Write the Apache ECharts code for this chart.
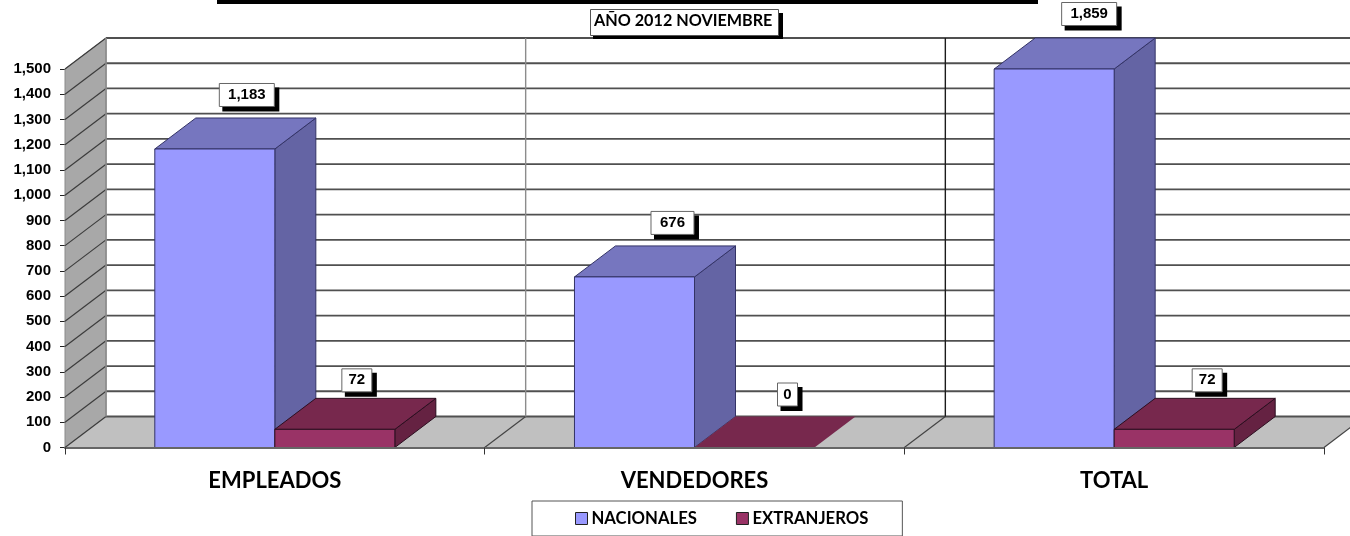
<!DOCTYPE html>
<html>
<head>
<meta charset="utf-8">
<title>AÑO 2012 NOVIEMBRE</title>
<script src="https://cdn.jsdelivr.net/npm/echarts@6/dist/echarts.min.js"></script>
<style>
html,body{margin:0;padding:0;background:#fff;}
#main{width:1350px;height:536px;}
</style>
</head>
<body>
<div id="main"></div>
<script>
var categories = ['EMPLEADOS', 'VENDEDORES', 'TOTAL'];
var nacionales = [1183, 676, 1859];
var extranjeros = [72, 0, 72];
var yMax = 1500;
var yStep = 100;

// falso 3D: desplazamiento del fondo respecto al frente
var DEPTH_X = 41;
var DEPTH_Y = -31;
var BAR_RATIO = 0.286;

// desplazamiento de las etiquetas respecto a la barra
var nacLabelShift = [[32, -54], [38, -54], [35, -55]];
var extLabelShift = [[22, -49], [33, -53], [33, -49]];
var boxWidths = {1: 20, 2: 30, 3: 43, 5: 55};
var backLineColors = ['#8c8c8c', '#1c1c1c', '#8c8c8c'];

function poly(points, fill, stroke, lineWidth) {
    return {
        type: 'polygon',
        shape: {points: points},
        style: {fill: fill, stroke: stroke || null, lineWidth: lineWidth || 0}
    };
}

function seg(x1, y1, x2, y2, color, width) {
    return {
        type: 'line',
        shape: {x1: x1, y1: y1, x2: x2, y2: y2},
        style: {stroke: color, lineWidth: width, fill: null}
    };
}

/* paredes y suelo del grafico */
function renderWalls(params, api) {
    var children = [];
    var band = api.size([1, 0])[0];
    var origin = api.coord([0, 0]);
    var left = origin[0] - band / 2;
    var bottom = origin[1];
    var top = api.coord([0, yMax])[1];
    var right = left + band * categories.length;

    children.push(poly([[left, top], [left + DEPTH_X, top + DEPTH_Y], [left + DEPTH_X, bottom + DEPTH_Y], [left, bottom]], '#a8a8a8', '#8a8a8a', 1));
    children.push(poly([[left, bottom], [left + DEPTH_X, bottom + DEPTH_Y], [right + DEPTH_X, bottom + DEPTH_Y], [right, bottom]], '#c0c0c0'));

    for (var v = 0; v <= yMax; v += yStep) {
        var y = api.coord([0, v])[1];
        if (v > 0) {
            children.push(seg(left, y, left + DEPTH_X, y + DEPTH_Y, '#3c3c3c', 1.2));
        }
        children.push(seg(left + DEPTH_X, y + DEPTH_Y, right + DEPTH_X, y + DEPTH_Y, '#505050', 1.8));
    }
    children.push(seg(left, bottom, left + DEPTH_X, bottom + DEPTH_Y, '#3c3c3c', 1.2));

    for (var i = 1; i <= categories.length; i++) {
        var x = left + band * i;
        children.push(seg(x, bottom, x + DEPTH_X, bottom + DEPTH_Y, '#444', 1.2));
        if (i < categories.length) {
            children.push(seg(x + DEPTH_X, bottom + DEPTH_Y, x + DEPTH_X, top + DEPTH_Y, backLineColors[i - 1], 1.4));
        }
    }
    children.push(seg(left + DEPTH_X, bottom + DEPTH_Y, left + DEPTH_X, top + DEPTH_Y, '#8c8c8c', 1.6));
    return {type: 'group', children: children};
}

/* caja de una barra: side = -1 a la izquierda del centro, 0 a la derecha */
function boxRenderer(side, colors, shifts) {
    return function (params, api) {
        var idx = api.value(0);
        var raw = api.value(1);
        var band = api.size([1, 0])[0];
        var w = band * BAR_RATIO;
        var base = api.coord([idx, 0]);
        var x0 = base[0] + side * w;
        var x1 = x0 + w;
        // la barra se corta en el maximo del eje
        var yTop = api.coord([idx, Math.min(raw, yMax)])[1];
        var yBase = base[1];
        var dx = DEPTH_X;
        var dy = DEPTH_Y;
        var children = [];

        children.push(poly([[x1, yTop], [x1 + dx, yTop + dy], [x1 + dx, yBase + dy], [x1, yBase]], colors.side, raw > 0 ? colors.line : null, 1));
        children.push(poly([[x0, yTop], [x0 + dx, yTop + dy], [x1 + dx, yTop + dy], [x1, yTop]], colors.top, raw > 0 ? colors.line : null, 1));
        if (raw > 0) {
            children.push({
                type: 'rect',
                shape: {x: x0, y: yTop, width: w, height: yBase - yTop},
                style: {fill: colors.front, stroke: colors.line, lineWidth: 1}
            });
        }

        var text = echarts.format.addCommas(raw);
        var bw = boxWidths[text.length];
        var bh = 23;
        var cx = x0 + w / 2 + shifts[params.dataIndex][0];
        var cy = yTop + shifts[params.dataIndex][1];
        children.push({
            type: 'rect',
            shape: {x: cx - bw / 2 + 3, y: cy - bh / 2 + 4, width: bw + 2, height: bh + 1},
            style: {fill: '#000'}
        });
        children.push({
            type: 'rect',
            shape: {x: cx - bw / 2, y: cy - bh / 2, width: bw, height: bh},
            style: {fill: '#fff', stroke: '#666', lineWidth: 1}
        });
        children.push({
            type: 'text',
            style: {
                text: text, x: cx, y: cy, align: 'center', verticalAlign: 'middle',
                fill: '#000', font: 'bold 15px "Liberation Sans"'
            }
        });
        return {type: 'group', children: children};
    };
}

function toPairs(values) {
    return values.map(function (v, i) {
        return [i, v];
    });
}

var option = {
    animation: false,
    backgroundColor: '#fff',
    grid: {left: 65, right: 26, top: 69, bottom: 88.5, containLabel: false},
    xAxis: {
        type: 'category',
        data: categories,
        z: 5,
        axisLine: {show: true, lineStyle: {color: '#666', width: 2}},
        axisTick: {show: true, length: 7, alignWithLabel: false, lineStyle: {color: '#333'}},
        axisLabel: {
            margin: 22,
            color: '#000',
            fontFamily: 'Lato',
            fontWeight: 'bold',
            fontSize: 22
        }
    },
    yAxis: {
        type: 'value',
        min: 0,
        max: yMax,
        interval: yStep,
        splitLine: {show: false},
        axisLine: {show: false},
        axisTick: {show: true, length: 5, lineStyle: {color: '#222'}},
        axisLabel: {
            margin: 14,
            color: '#000',
            fontFamily: 'Liberation Sans',
            fontWeight: 'bold',
            fontSize: 15
        }
    },
    legend: {
        data: [{name: 'NACIONALES', icon: 'rect'}, {name: 'EXTRANJEROS', icon: 'rect'}],
        left: 532,
        top: 501,
        itemWidth: 12,
        itemHeight: 12,
        itemGap: 39,
        padding: [9, 34, 9, 43],
        borderColor: '#555',
        borderWidth: 1,
        backgroundColor: '#fff',
        selectedMode: false,
        itemStyle: {borderColor: '#222', borderWidth: 1},
        textStyle: {
            color: '#000',
            fontFamily: 'Lato',
            fontWeight: 'bold',
            fontSize: 16.7,
            padding: [0, 0, 0, -1]
        }
    },
    graphic: [
        {type: 'rect', left: 217, top: 0, shape: {width: 821, height: 4}, style: {fill: '#000'}},
        {type: 'rect', left: 593, top: 13, shape: {width: 190, height: 26}, style: {fill: '#000'}, z: 10},
        {type: 'rect', left: 590, top: 9, shape: {width: 188, height: 26}, style: {fill: '#fff', stroke: '#555', lineWidth: 1}, z: 11},
        {
            type: 'text', left: 594, top: 13, z: 12,
            style: {text: 'AÑO 2012 NOVIEMBRE', fill: '#000', font: 'bold 16.2px Lato'}
        }
    ],
    series: [
        {
            type: 'custom',
            name: 'paredes',
            silent: true,
            z: 1,
            data: [[0, 0]],
            renderItem: renderWalls
        },
        {
            type: 'custom',
            name: 'NACIONALES',
            z: 2,
            itemStyle: {color: '#9999ff'},
            data: toPairs(nacionales),
            renderItem: boxRenderer(-1, {front: '#9999ff', top: '#7676bf', side: '#6464a4', line: '#333366'}, nacLabelShift)
        },
        {
            type: 'custom',
            name: 'EXTRANJEROS',
            z: 3,
            itemStyle: {color: '#993366'},
            data: toPairs(extranjeros),
            renderItem: boxRenderer(0, {front: '#993366', top: '#77284d', side: '#652242', line: '#2c0f20'}, extLabelShift)
        }
    ]
};

var myChart = echarts.init(document.getElementById('main'));
myChart.setOption(option);
</script>
</body>
</html>
